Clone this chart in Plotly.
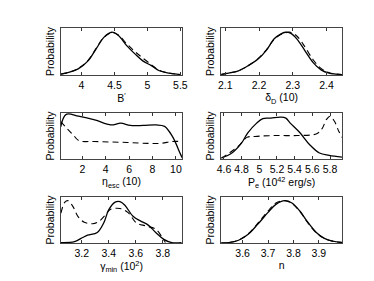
import plotly.graph_objects as go

# ---- data ----
b_x = [3.69, 3.82, 3.95, 4.10, 4.22, 4.34, 4.46, 4.56, 4.69, 4.81, 4.93, 5.06, 5.18, 5.33, 5.50]
b_solid = [0.02, 0.06, 0.13, 0.30, 0.55, 0.80, 0.91, 0.84, 0.62, 0.45, 0.30, 0.20, 0.09, 0.04, 0.01]
b_dash = [0.02, 0.06, 0.14, 0.31, 0.56, 0.80, 0.90, 0.85, 0.66, 0.50, 0.36, 0.22, 0.10, 0.04, 0.01]

d_x = [2.086, 2.110, 2.139, 2.168, 2.197, 2.221, 2.245, 2.264, 2.278, 2.293, 2.312, 2.336, 2.360, 2.384, 2.408, 2.446]
d_solid = [0.01, 0.04, 0.09, 0.20, 0.34, 0.52, 0.77, 0.87, 0.91, 0.89, 0.77, 0.52, 0.27, 0.11, 0.04, 0.01]
d_dash = [0.01, 0.04, 0.09, 0.20, 0.35, 0.53, 0.76, 0.86, 0.90, 0.91, 0.83, 0.60, 0.33, 0.14, 0.05, 0.01]

e_x_solid = [0.15, 0.62, 1.67, 3.06, 4.45, 5.28, 6.10, 7.20, 8.30, 9.03, 9.70, 10.40, 10.55]
e_solid = [0.70, 0.97, 0.93, 0.85, 0.74, 0.78, 0.73, 0.73, 0.74, 0.71, 0.49, 0.10, 0.02]
e_x_dash = [0.15, 0.70, 1.20, 1.70, 3.06, 5.80, 7.60, 8.70, 9.70, 10.55]
e_dash = [0.81, 0.66, 0.53, 0.40, 0.38, 0.36, 0.34, 0.34, 0.38, 0.38]

p_x_solid = [4.57, 4.69, 4.80, 4.87, 4.97, 5.04, 5.13, 5.24, 5.30, 5.35, 5.46, 5.57, 5.68, 5.79, 5.94]
p_solid = [0.02, 0.13, 0.35, 0.57, 0.78, 0.88, 0.89, 0.91, 0.89, 0.78, 0.57, 0.31, 0.13, 0.08, 0.04]
p_x_dash = [4.57, 4.66, 4.77, 4.86, 4.95, 5.17, 5.43, 5.65, 5.71, 5.76, 5.80, 5.85, 5.90, 5.94]
p_dash = [0.02, 0.13, 0.29, 0.47, 0.49, 0.51, 0.51, 0.55, 0.66, 0.86, 0.93, 0.82, 0.60, 0.46]

g_x_solid = [3.046, 3.147, 3.207, 3.243, 3.315, 3.363, 3.399, 3.447, 3.483, 3.519, 3.579, 3.639, 3.687, 3.747, 3.807, 3.866, 3.938]
g_solid = [0.01, 0.03, 0.12, 0.17, 0.23, 0.44, 0.72, 0.89, 0.90, 0.82, 0.58, 0.47, 0.40, 0.23, 0.08, 0.01, 0.01]
g_x_dash = [3.046, 3.075, 3.099, 3.135, 3.171, 3.219, 3.279, 3.327, 3.375, 3.411, 3.483, 3.543, 3.603, 3.675, 3.747, 3.795, 3.819]
g_dash = [0.65, 0.89, 0.92, 0.79, 0.58, 0.45, 0.42, 0.47, 0.61, 0.73, 0.75, 0.66, 0.44, 0.37, 0.30, 0.12, 0.01]

n_x = [3.513, 3.545, 3.584, 3.622, 3.660, 3.699, 3.731, 3.766, 3.794, 3.826, 3.858, 3.890, 3.922, 3.954, 3.992]
n_solid = [0.00, 0.01, 0.06, 0.19, 0.41, 0.66, 0.84, 0.92, 0.87, 0.69, 0.44, 0.23, 0.10, 0.04, 0.01]
n_dash = [0.00, 0.01, 0.06, 0.20, 0.43, 0.69, 0.87, 0.92, 0.86, 0.68, 0.43, 0.22, 0.10, 0.04, 0.01]

panels = [
    dict(xs=b_x, ys=b_solid, xd=b_x, yd=b_dash, rng=[3.685, 5.53], ticks=[4, 4.5, 5, 5.5], title="B<sup>′</sup>"),
    dict(xs=d_x, ys=d_solid, xd=d_x, yd=d_dash, rng=[2.088, 2.446], ticks=[2.1, 2.2, 2.3, 2.4], title="δ<sub>D</sub> (10)"),
    dict(xs=e_x_solid, ys=e_solid, xd=e_x_dash, yd=e_dash, rng=[0.15, 10.55], ticks=[2, 4, 6, 8, 10], title="η<sub>esc</sub> (10)"),
    dict(xs=p_x_solid, ys=p_solid, xd=p_x_dash, yd=p_dash, rng=[4.57, 5.935], ticks=[4.6, 4.8, 5, 5.2, 5.4, 5.6, 5.8], title="P<sub>e</sub> (10<sup>42</sup> erg/s)"),
    dict(xs=g_x_solid, ys=g_solid, xd=g_x_dash, yd=g_dash, rng=[3.044, 3.944], ticks=[3.2, 3.4, 3.6, 3.8], title="γ<sub>min</sub> (10<sup>2</sup>)"),
    dict(xs=n_x, ys=n_solid, xd=n_x, yd=n_dash, rng=[3.516, 3.991], ticks=[3.6, 3.7, 3.8, 3.9], title="n"),
]

W, H = 374, 281
cols = [(49, 174), (214, 338)]
rows = [(20, 67), (105, 151), (189, 235)]

fig = go.Figure()
font = dict(family="Liberation Sans, Arial, sans-serif", size=10, color="black")
layout = dict(width=W, height=H, margin=dict(l=0, r=0, t=0, b=0),
              paper_bgcolor="white", plot_bgcolor="white", showlegend=False, font=font)

for i, p in enumerate(panels):
    r, c = divmod(i, 2)
    k = "" if i == 0 else str(i + 1)
    x0, x1 = cols[c]
    y0, y1 = rows[r]
    fig.add_trace(go.Scatter(x=p["xs"], y=p["ys"], mode="lines", line=dict(color="black", width=1.3, shape="spline"),
                             xaxis="x" + k, yaxis="y" + k))
    fig.add_trace(go.Scatter(x=p["xd"], y=p["yd"], mode="lines", line=dict(color="black", width=1.1, dash="6px,4px", shape="spline"),
                             xaxis="x" + k, yaxis="y" + k))
    layout["xaxis" + k] = dict(domain=[x0 / W, x1 / W], range=p["rng"], anchor="y" + k,
                               tickvals=p["ticks"], ticks="inside", ticklen=3, tickcolor="#333",
                               showline=True, linecolor="#444", linewidth=1, mirror="allticks",
                               showgrid=False, zeroline=False, tickfont=dict(font, size=10.5),
                               title=dict(text=p["title"], font=dict(font, size=10.5), standoff=4))
    layout["yaxis" + k] = dict(domain=[1 - y1 / H, 1 - y0 / H], range=[0, 1], anchor="x" + k,
                               showticklabels=False, ticks="", showline=True, linecolor="#444", linewidth=1,
                               mirror=True, showgrid=False, zeroline=False,
                               title=dict(text="Probability", font=dict(font, size=10.5), standoff=3))

fig.update_layout(**layout)
fig.write_html("out.html")
